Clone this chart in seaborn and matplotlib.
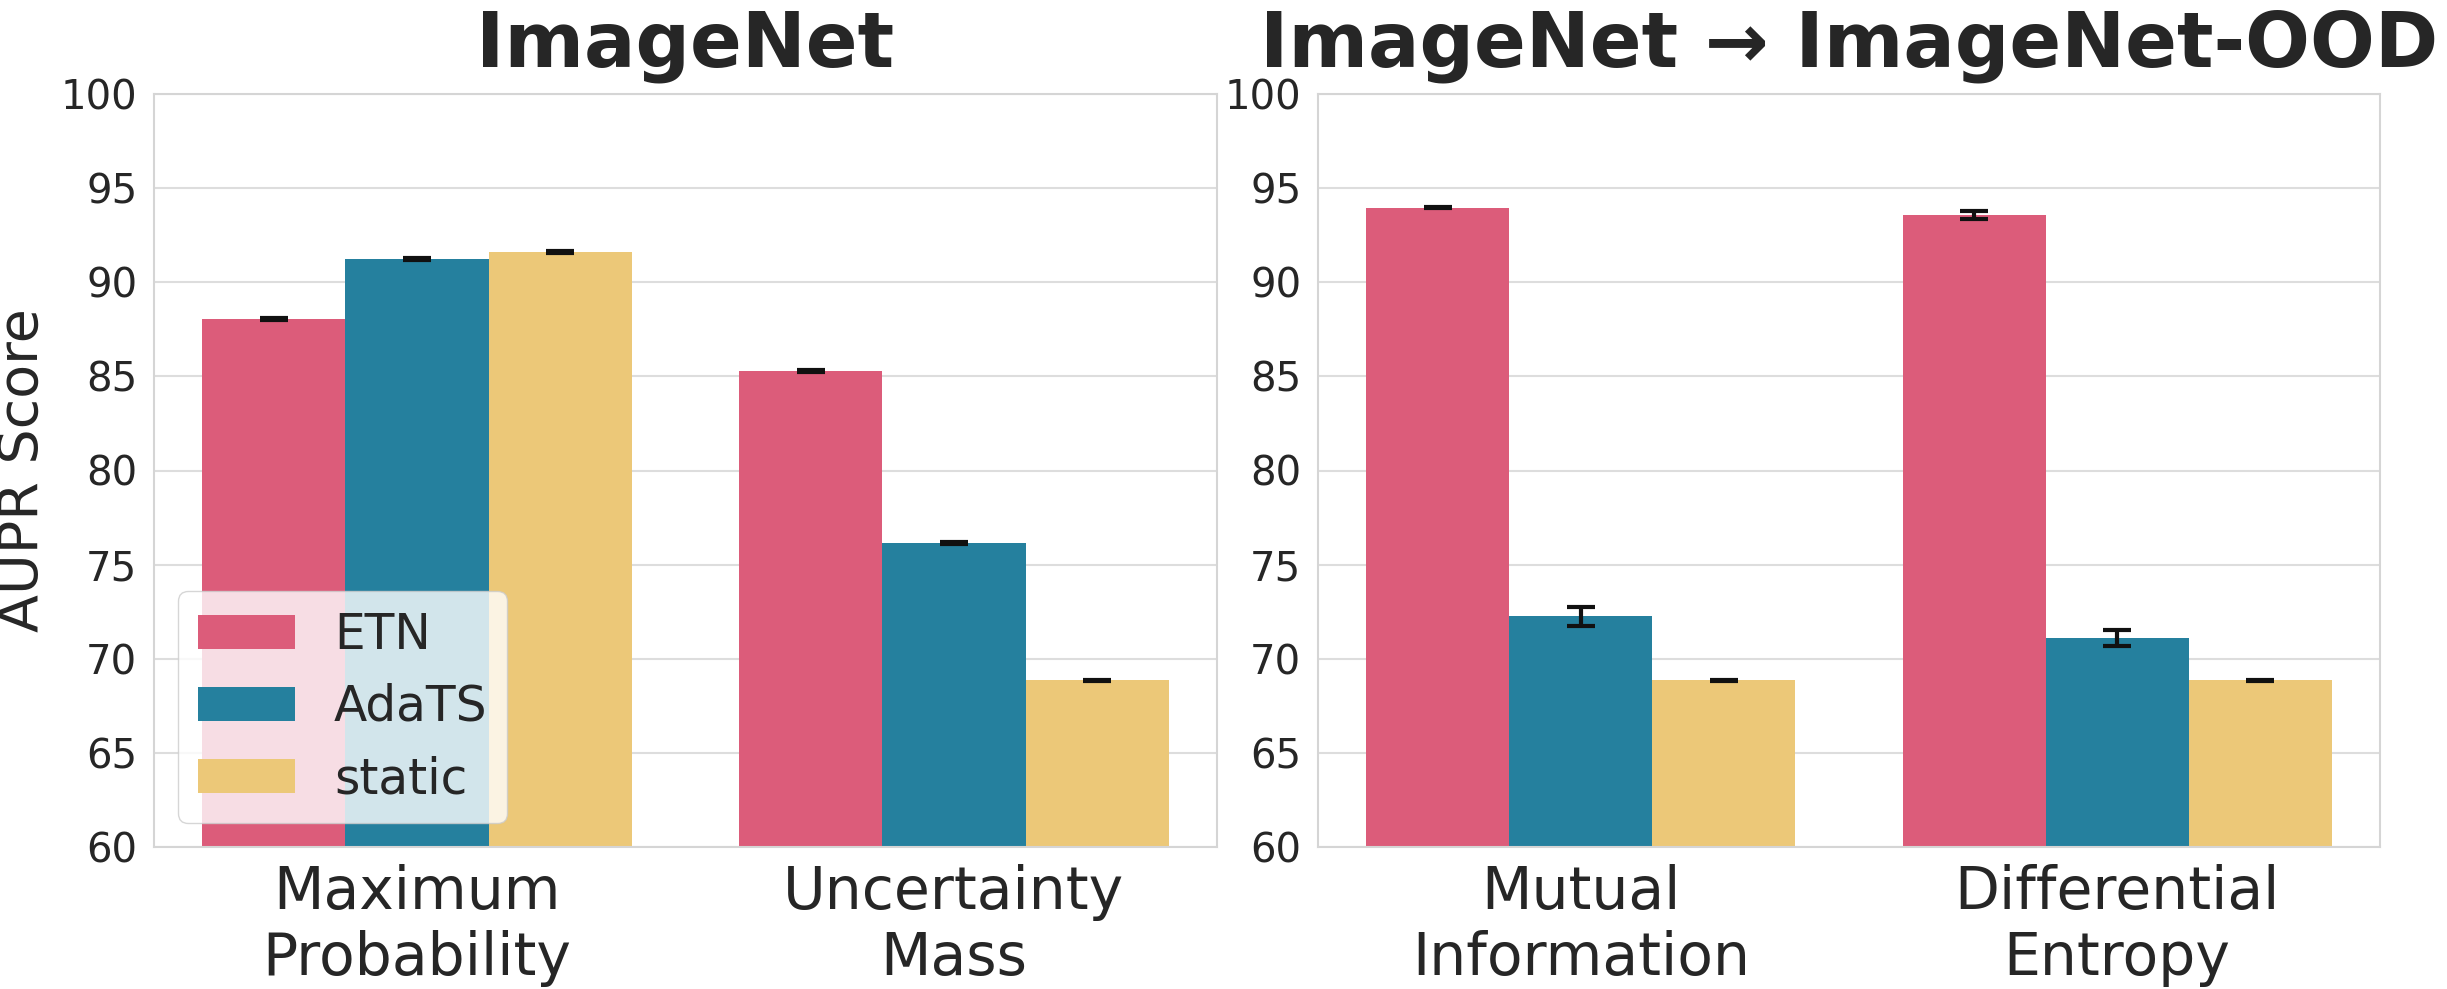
import matplotlib
matplotlib.use("Agg")
import matplotlib.pyplot as plt
import seaborn as sns
import pandas as pd

methods = ["ETN", "AdaTS", "static"]
palette = ["#dc5c7a", "#25809e", "#ecc878"]

left_title = "ImageNet"
left_cats = ["Maximum\nProbability", "Uncertainty\nMass"]
left_etn = [88.05, 85.27]
left_adats = [91.23, 76.15]
left_static = [91.62, 68.85]
left_etn_err = [0.05, 0.06]
left_adats_err = [0.04, 0.04]
left_static_err = [0.04, 0.04]

right_title = "ImageNet → ImageNet-OOD"
right_cats = ["Mutual\nInformation", "Differential\nEntropy"]
right_etn = [93.97, 93.57]
right_adats = [72.25, 71.12]
right_static = [68.85, 68.85]
right_etn_err = [0.05, 0.22]
right_adats_err = [0.5, 0.42]
right_static_err = [0.04, 0.04]

yticks = [60, 65, 70, 75, 80, 85, 90, 95, 100]

sns.set_theme(style="whitegrid")
plt.rcParams["font.family"] = ["DejaVu Sans"]

fig = plt.figure(figsize=(24.47, 9.89), dpi=100)
ax1 = fig.add_axes([154 / 2447, 1 - 847 / 989, 1063 / 2447, 753 / 989])
ax2 = fig.add_axes([1318 / 2447, 1 - 847 / 989, 1062 / 2447, 753 / 989])


def make_df(cats, etn, adats, static):
    rows = []
    for vals, m in zip([etn, adats, static], methods):
        for c, v in zip(cats, vals):
            rows.append({"metric": c, "method": m, "score": v})
    return pd.DataFrame(rows)


def draw(ax, cats, etn, adats, static, errs, title, legend):
    df = make_df(cats, etn, adats, static)
    sns.barplot(data=df, x="metric", y="score", hue="method", hue_order=methods,
                order=cats, palette=palette, saturation=1, errorbar=None,
                ax=ax, legend=legend, linewidth=0)
    for cont, err in zip(ax.containers, errs):
        xs = [b.get_x() + b.get_width() / 2 for b in cont]
        ys = [b.get_height() for b in cont]
        ax.errorbar(xs, ys, yerr=err, fmt="none", ecolor="#111111",
                    elinewidth=3, capsize=10, capthick=3, zorder=5)
    ax.set_ylim(60, 100)
    ax.set_yticks(yticks)
    ax.set_xlabel("")
    ax.set_title(title, fontsize=55, fontweight="bold", color="#262626", pad=20)
    ax.tick_params(axis="x", labelsize=42, pad=6)
    ax.tick_params(axis="y", labelsize=29, pad=6)
    for s in ax.spines.values():
        s.set_color("#d5d5d5")
        s.set_linewidth(1.5)
    ax.grid(axis="y", color="#dddddd", linewidth=1.5)
    ax.grid(axis="x", visible=False)
    ax.set_axisbelow(True)


draw(ax1, left_cats, left_etn, left_adats, left_static,
     [left_etn_err, left_adats_err, left_static_err], left_title, True)
draw(ax2, right_cats, right_etn, right_adats, right_static,
     [right_etn_err, right_adats_err, right_static_err], right_title, False)

ax1.set_ylabel("AUPR Score", fontsize=40, labelpad=8)
ax2.set_ylabel("")
ax1.legend(loc="lower left", fontsize=35, title=None, framealpha=0.8)

fig.savefig("out.png", dpi=100, facecolor="white")
